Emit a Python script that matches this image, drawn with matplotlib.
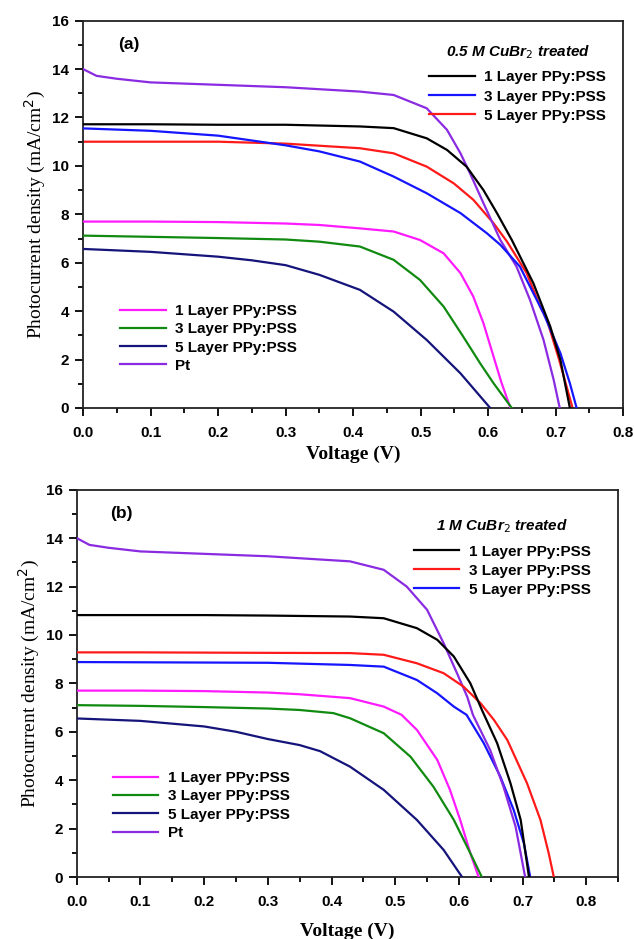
#!/usr/bin/env python3
"""
J-V curves of DSSCs with PPy:PSS counter electrodes (CuBr2 treated) vs Pt.
Two stacked panels: (a) 0.5 M CuBr2, (b) 1 M CuBr2.
"""

import matplotlib.pyplot as plt
from matplotlib.ticker import MultipleLocator, FormatStrFormatter

# ---- panel (a): untreated references ----
pt_v = [0, 0.02, 0.05, 0.1, 0.2, 0.3, 0.41, 0.46, 0.509, 0.539, 0.559, 0.573, 0.593, 0.618, 0.642, 0.662, 0.682, 0.697, 0.706]
pt_j = [14.0, 13.72, 13.6, 13.45, 13.35, 13.25, 13.07, 12.93, 12.38, 11.49, 10.52, 9.7, 8.46, 6.94, 5.84, 4.46, 2.81, 1.16, 0]

l1_v = [0, 0.1, 0.2, 0.3, 0.35, 0.41, 0.46, 0.499, 0.534, 0.559, 0.578, 0.593, 0.608, 0.62, 0.633]
l1_j = [7.7, 7.7, 7.68, 7.62, 7.56, 7.42, 7.29, 6.94, 6.39, 5.57, 4.6, 3.5, 2.12, 1.02, 0]

l3_v = [0, 0.1, 0.2, 0.3, 0.35, 0.41, 0.46, 0.499, 0.534, 0.563, 0.588, 0.608, 0.635]
l3_j = [7.12, 7.07, 7.02, 6.96, 6.87, 6.67, 6.12, 5.29, 4.19, 2.95, 1.85, 1.02, 0]

l5_v = [0, 0.1, 0.2, 0.25, 0.3, 0.35, 0.41, 0.46, 0.509, 0.559, 0.603]
l5_j = [6.57, 6.45, 6.25, 6.1, 5.9, 5.5, 4.88, 3.98, 2.81, 1.43, 0]

# ---- panel (b): untreated references ----
pt_b_v = [0, 0.02, 0.05, 0.1, 0.2, 0.3, 0.429, 0.482, 0.518, 0.55, 0.576, 0.597, 0.613, 0.622, 0.649, 0.67, 0.689, 0.704]
pt_b_j = [14.0, 13.72, 13.6, 13.45, 13.35, 13.25, 13.04, 12.69, 12.0, 11.04, 9.66, 8.42, 7.45, 6.7, 5.25, 3.73, 2.08, 0]

l1_b_v = [0, 0.1, 0.2, 0.3, 0.35, 0.429, 0.482, 0.51, 0.534, 0.566, 0.586, 0.602, 0.618, 0.631]
l1_b_j = [7.7, 7.7, 7.68, 7.62, 7.55, 7.39, 7.04, 6.7, 6.08, 4.84, 3.6, 2.36, 0.98, 0]

l3_b_v = [0, 0.1, 0.2, 0.3, 0.35, 0.403, 0.429, 0.482, 0.524, 0.56, 0.592, 0.618, 0.636]
l3_b_j = [7.1, 7.07, 7.02, 6.96, 6.9, 6.77, 6.56, 5.94, 4.97, 3.73, 2.36, 0.98, 0]

l5_b_v = [0, 0.1, 0.2, 0.25, 0.3, 0.35, 0.382, 0.429, 0.482, 0.534, 0.576, 0.605]
l5_b_j = [6.55, 6.45, 6.22, 6.0, 5.7, 5.45, 5.2, 4.56, 3.6, 2.36, 1.12, 0]

# ---- 0.5 M CuBr2 treated ----
a1_v = [0, 0.1, 0.2, 0.3, 0.41, 0.46, 0.509, 0.539, 0.568, 0.593, 0.613, 0.635, 0.667, 0.692, 0.707, 0.721]
a1_j = [11.72, 11.72, 11.7, 11.7, 11.63, 11.56, 11.14, 10.66, 9.97, 9.0, 8.05, 6.94, 5.15, 3.36, 1.98, 0]

a3_v = [0, 0.1, 0.2, 0.3, 0.35, 0.41, 0.46, 0.509, 0.559, 0.598, 0.618, 0.647, 0.682, 0.707, 0.721, 0.731]
a3_j = [11.55, 11.45, 11.25, 10.85, 10.6, 10.18, 9.56, 8.87, 8.05, 7.22, 6.74, 5.84, 3.91, 2.26, 1.02, 0]

a5_v = [0, 0.1, 0.2, 0.3, 0.41, 0.46, 0.509, 0.549, 0.578, 0.608, 0.628, 0.657, 0.677, 0.687, 0.705, 0.725]
a5_j = [11.0, 11.0, 11.0, 10.92, 10.73, 10.52, 9.97, 9.28, 8.6, 7.63, 6.87, 5.57, 4.19, 3.64, 2.0, 0]

# ---- 1 M CuBr2 treated ----
b1_v = [0, 0.1, 0.2, 0.3, 0.429, 0.482, 0.534, 0.566, 0.592, 0.618, 0.637, 0.66, 0.681, 0.697, 0.71]
b1_j = [10.82, 10.82, 10.82, 10.8, 10.76, 10.69, 10.28, 9.8, 9.11, 8.0, 6.85, 5.53, 3.87, 2.36, 0]

b3_v = [0, 0.1, 0.2, 0.3, 0.429, 0.482, 0.534, 0.576, 0.607, 0.634, 0.655, 0.676, 0.707, 0.728, 0.741, 0.749]
b3_j = [9.28, 9.28, 9.27, 9.26, 9.25, 9.18, 8.83, 8.42, 7.87, 7.18, 6.49, 5.66, 3.87, 2.36, 0.98, 0]

b5_v = [0, 0.1, 0.2, 0.3, 0.429, 0.482, 0.534, 0.566, 0.592, 0.612, 0.639, 0.665, 0.686, 0.702, 0.712]
b5_j = [8.88, 8.87, 8.86, 8.85, 8.76, 8.69, 8.14, 7.59, 7.04, 6.7, 5.53, 4.15, 2.77, 1.39, 0]

ref_labels = ['1 Layer PPy:PSS', '3 Layer PPy:PSS', '5 Layer PPy:PSS', 'Pt']
ref_colors = ['#ff1aff', '#118a11', '#14147a', '#8a2be2']
tr_labels = ['1 Layer PPy:PSS', '3 Layer PPy:PSS', '5 Layer PPy:PSS']

SANS = 'Liberation Sans'
SERIF = 'Liberation Serif'
LW = 1.6


def style_axes(ax, xmax, xlabelpad):
    ax.set_xlim(0, xmax)
    ax.set_ylim(0, 16)
    ax.xaxis.set_major_locator(MultipleLocator(0.1))
    ax.xaxis.set_minor_locator(MultipleLocator(0.05))
    ax.yaxis.set_major_locator(MultipleLocator(2))
    ax.yaxis.set_minor_locator(MultipleLocator(1))
    ax.xaxis.set_major_formatter(FormatStrFormatter('%.1f'))
    ax.tick_params(which='both', direction='out', top=False, right=False, width=1.3)
    ax.tick_params(which='major', length=6, pad=4)
    ax.tick_params(axis='x', which='major', pad=7)
    ax.tick_params(which='minor', length=3.5)
    for lab in ax.get_xticklabels() + ax.get_yticklabels():
        lab.set_fontfamily(SANS)
        lab.set_fontweight('bold')
        lab.set_fontsize(11)
    for sp in ax.spines.values():
        sp.set_linewidth(1.3)
        sp.set_color('#222222')
    ax.set_xlabel('Voltage (V)', fontfamily=SERIF, fontweight='bold', fontsize=14,
                  labelpad=xlabelpad)
    ax.set_ylabel('Photocurrent density (mA/cm$^2$)', fontfamily=SERIF, fontsize=14, labelpad=3)


def draw_panel(ax, ref_curves, treated, treated_colors, title, tag, xmax,
               ll_anchor, ur_anchor, xlabelpad):
    ref_handles = []
    for (v, j), c, lab in zip(ref_curves, ref_colors, ref_labels):
        h, = ax.plot(v, j, color=c, lw=LW, label=lab, zorder=3)
        ref_handles.append(h)
    tr_handles = []
    for (v, j), c, lab, z in zip(treated, treated_colors, tr_labels, [5, 4, 2]):
        h, = ax.plot(v, j, color=c, lw=LW, label=lab, zorder=z)
        tr_handles.append(h)

    leg_font = {'family': SANS, 'weight': 'bold', 'size': 11}
    leg1 = ax.legend(handles=ref_handles, loc='lower left', bbox_to_anchor=ll_anchor,
                     frameon=False, prop=leg_font, handlelength=3.0, handletextpad=0.6,
                     labelspacing=0.28, borderaxespad=0)
    ax.add_artist(leg1)
    leg2 = ax.legend(handles=tr_handles, loc='upper right', bbox_to_anchor=ur_anchor,
                     frameon=False, prop=leg_font, handlelength=3.0, handletextpad=0.6,
                     labelspacing=0.33, borderaxespad=0, title=title,
                     title_fontproperties={'family': SANS, 'weight': 'bold',
                                           'style': 'italic', 'size': 11})
    leg2._legend_box.sep = 7
    ax.text(0.052, 15.0, tag, fontfamily=SANS, fontweight='bold', fontsize=12.5,
            va='center', ha='left')
    style_axes(ax, xmax, xlabelpad)


def main():
    fig = plt.figure(figsize=(6.34, 9.39), dpi=100)
    ax_a = fig.add_axes([0.131, 0.5655, 0.852, 0.4125])
    ax_b = fig.add_axes([0.121, 0.066, 0.854, 0.4125])

    refs_a = [(l1_v, l1_j), (l3_v, l3_j), (l5_v, l5_j), (pt_v, pt_j)]
    refs_b = [(l1_b_v, l1_b_j), (l3_b_v, l3_b_j), (l5_b_v, l5_b_j), (pt_b_v, pt_b_j)]

    draw_panel(ax_a, refs_a, [(a1_v, a1_j), (a3_v, a3_j), (a5_v, a5_j)],
               ['black', '#1515ff', '#ff1a1a'], '0.5 M CuBr$_2$ treated', '(a)', 0.8,
               (0.058, 0.075), (0.98, 0.958), 4)
    draw_panel(ax_b, refs_b, [(b1_v, b1_j), (b3_v, b3_j), (b5_v, b5_j)],
               ['black', '#ff1a1a', '#1515ff'], '1 M CuBr$_2$ treated', '(b)', 0.85,
               (0.055, 0.08), (0.96, 0.945), 10)

    fig.savefig('out.png', dpi=100)


if __name__ == '__main__':
    main()
